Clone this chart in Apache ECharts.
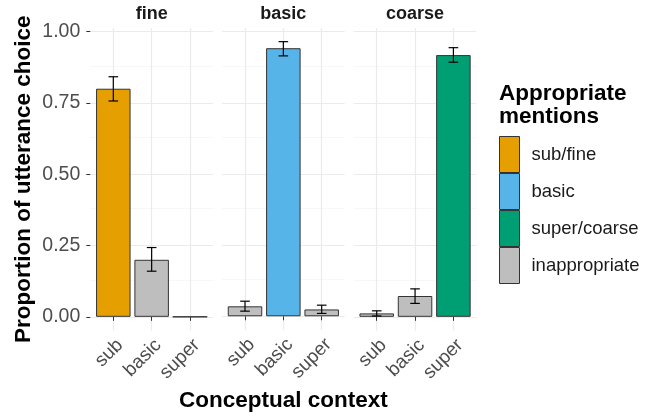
<!DOCTYPE html>
<html>
<head>
<meta charset="utf-8">
<script src="https://cdn.jsdelivr.net/npm/echarts@6/dist/echarts.min.js"></script>
<style>
  html, body { margin: 0; padding: 0; background: #fff; }
  #chart { width: 649px; height: 417px; }
</style>
</head>
<body>
<div id="chart"></div>
<script>
// Facet panels (conceptual context) and the utterance levels inside each panel
const contexts = ['fine', 'basic', 'coarse'];
const utterances = ['sub', 'basic', 'super'];

// Mean proportion of each utterance, per context
const meanFine   = [0.800, 0.200, 0.000];
const meanBasic  = [0.035, 0.942, 0.024];
const meanCoarse = [0.012, 0.073, 0.918];

// Lower / upper bounds of the error bars
const lowFine    = [0.757, 0.160, 0.000];
const highFine   = [0.842, 0.243, 0.000];
const lowBasic   = [0.018, 0.915, 0.010];
const highBasic  = [0.053, 0.965, 0.039];
const lowCoarse  = [0.003, 0.047, 0.893];
const highCoarse = [0.021, 0.098, 0.944];

// Appropriateness of each utterance in each context (index into mentionTypes)
const mentionTypes = ['sub/fine', 'basic', 'super/coarse', 'inappropriate'];
const typeFine   = [0, 3, 3];
const typeBasic  = [3, 1, 3];
const typeCoarse = [3, 3, 2];

const yTicks = [0, 0.25, 0.5, 0.75, 1];
const yMinorTicks = [0.125, 0.375, 0.625, 0.875];

// ---- styling / layout ----
const mentionColors = ['#E69F00', '#56B4E9', '#009E73', '#BEBEBE'];
const means = [meanFine, meanBasic, meanCoarse];
const lows = [lowFine, lowBasic, lowCoarse];
const highs = [highFine, highBasic, highCoarse];
const types = [typeFine, typeBasic, typeCoarse];

const panelTop = 28, panelHeight = 302.5;
const panelLeft = 90.3, panelWidth = 122.7, panelGap = 9;
const xMin = 0.4, xMax = 3.6;           // discrete scale padded by 0.6 on each side
const yMin = -0.048, yMax = 1.013;      // 5% expansion around the data range
const barWidthPx = panelWidth * 0.9 / (xMax - xMin);
const errHalfWidth = 0.125;
const outline = '#333333';
const axisTextColor = '#4d4d4d';
const gridMajor = '#ebebeb', gridMinor = '#f3f3f3';
const FONT = 'Liberation Sans, Arial, sans-serif';

const grids = [], xAxes = [], yAxes = [], series = [], graphics = [];

contexts.forEach((ctx, c) => {
  const left = panelLeft + c * (panelWidth + panelGap);
  grids.push({ left: left, top: panelTop, width: panelWidth, height: panelHeight, containLabel: false });

  xAxes.push({
    type: 'value', gridIndex: c, min: xMin, max: xMax,
    axisLine: { show: false },
    splitLine: { show: false },
    axisTick: { show: true, customValues: [1, 2, 3], length: 4, lineStyle: { color: outline, width: 1 } },
    axisLabel: {
      customValues: [1, 2, 3], rotate: 45, margin: 5, verticalAlign: 'top',
      fontFamily: FONT, fontSize: 19, color: axisTextColor,
      formatter: v => utterances[Math.round(v) - 1]
    },
    name: c === 1 ? 'Conceptual context' : '',
    nameLocation: 'middle', nameGap: 58,
    nameTextStyle: { fontFamily: FONT, fontSize: 22.5, fontWeight: 'bold', color: '#000' }
  });

  yAxes.push({
    type: 'value', gridIndex: c, min: yMin, max: yMax,
    axisLine: { show: false },
    splitLine: { show: false },
    axisTick: { show: c === 0, customValues: yTicks, length: 4, lineStyle: { color: outline, width: 1 } },
    axisLabel: {
      show: c === 0, customValues: yTicks, margin: 10,
      fontFamily: FONT, fontSize: 19.5, color: axisTextColor,
      formatter: v => v.toFixed(2)
    },
    name: c === 0 ? 'Proportion of utterance choice' : '',
    nameLocation: 'middle', nameGap: 55, nameRotate: 90,
    nameTextStyle: { fontFamily: FONT, fontSize: 22.5, fontWeight: 'bold', color: '#000' }
  });

  // Panel gridlines
  series.push({
    type: 'line', name: '', xAxisIndex: c, yAxisIndex: c, data: [], silent: true,
    markLine: {
      silent: true, symbol: 'none', z: 0, animation: false,
      label: { show: false },
      data: [].concat(
        yMinorTicks.map(v => ({ yAxis: v, lineStyle: { color: gridMinor, width: 0.7, type: 'solid' } })),
        yTicks.map(v => ({ yAxis: v, lineStyle: { color: gridMajor, width: 1.2, type: 'solid' } })),
        [1, 2, 3].map(v => ({ xAxis: v, lineStyle: { color: gridMajor, width: 1.2, type: 'solid' } }))
      )
    }
  });

  // Bars, one series per appropriateness type so the legend can group them
  mentionTypes.forEach((mt, t) => {
    const data = [];
    utterances.forEach((u, i) => { if (types[c][i] === t) data.push([i + 1, means[c][i]]); });
    series.push({
      type: 'bar', name: mt, xAxisIndex: c, yAxisIndex: c, z: 2,
      barWidth: barWidthPx, barGap: '-100%',
      itemStyle: { color: mentionColors[t], borderColor: outline, borderWidth: 1 },
      data: data, animation: false
    });
  });

  // Error bars
  series.push({
    type: 'custom', name: 'errorbars', xAxisIndex: c, yAxisIndex: c, z: 3, silent: true,
    data: utterances.map((u, i) => [i + 1, lows[c][i], highs[c][i]]),
    renderItem: (params, api) => {
      const x = api.value(0), lo = api.value(1), hi = api.value(2);
      if (hi - lo <= 0) return null;
      const pLo = api.coord([x, lo]), pHi = api.coord([x, hi]);
      const hw = api.size([errHalfWidth, 0])[0];
      const style = { stroke: '#000', lineWidth: 1.2 };
      return {
        type: 'group',
        children: [
          { type: 'line', shape: { x1: pLo[0], y1: pLo[1], x2: pHi[0], y2: pHi[1] }, style },
          { type: 'line', shape: { x1: pLo[0] - hw, y1: pLo[1], x2: pLo[0] + hw, y2: pLo[1] }, style },
          { type: 'line', shape: { x1: pHi[0] - hw, y1: pHi[1], x2: pHi[0] + hw, y2: pHi[1] }, style }
        ]
      };
    },
    animation: false
  });

  // Facet strip label
  graphics.push({
    type: 'text', x: left + panelWidth / 2, y: 14,
    style: {
      text: ctx, fontFamily: FONT, fontSize: 18, fontWeight: 'bold',
      fill: '#1a1a1a', align: 'center', verticalAlign: 'middle'
    }
  });
});

// Legend title
graphics.push({
  type: 'text', x: 499, y: 82,
  style: {
    text: 'Appropriate\nmentions', fontFamily: FONT, fontSize: 22.5,
    fontWeight: 'bold', fill: '#000', lineHeight: 23, align: 'left', verticalAlign: 'top'
  }
});

const chart = echarts.init(document.getElementById('chart'), null, { renderer: 'canvas' });
chart.setOption({
  animation: false,
  backgroundColor: '#ffffff',
  grid: grids,
  xAxis: xAxes,
  yAxis: yAxes,
  legend: {
    data: mentionTypes, orient: 'vertical', left: 499, top: 136, padding: 0,
    itemWidth: 20, itemHeight: 36, itemGap: 0, icon: 'rect', selectedMode: false,
    itemStyle: { borderColor: outline, borderWidth: 1 },
    textStyle: { fontFamily: FONT, fontSize: 18.5, color: '#1a1a1a', padding: [0, 0, 0, 7] }
  },
  graphic: graphics,
  series: series
});
</script>
</body>
</html>
